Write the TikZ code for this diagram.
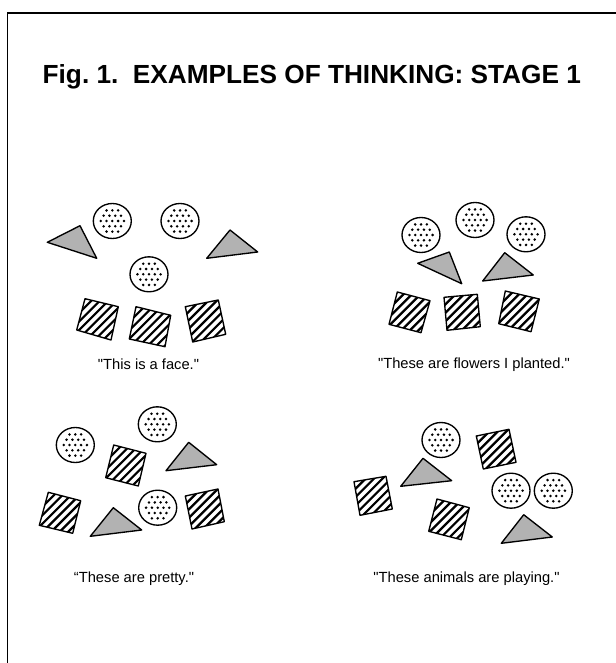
\documentclass[tikz,border=0pt]{standalone}
\usepackage{fontspec}
\newfontfamily\arialf{Liberation Sans}[Ligatures=TeXOff]
\usetikzlibrary{calc}
\tikzset{
  outline/.style={draw=black, line width=1.35pt, line join=round},
  trishape/.style={outline, fill=black!30},
  hatchline/.style={line width=2.2pt, draw=black},
  dotstyle/.style={fill=black},
  framestyle/.style={line width=1.4pt, draw=black},
  caption/.style={font=\arialf\fontsize{14.7}{17}\selectfont, anchor=base, inner sep=0pt},
  titlestyle/.style={font=\arialf\bfseries\fontsize{26.2}{30}\selectfont, anchor=base west, inner sep=0pt},
}
\newcommand\dotball[2]{%
  \begin{scope}[shift={(#1,#2)}]
    \foreach \j [evaluate=\j as \xo using {mod(\j+10,2)*2.9}] in {-4,...,4}{
      \foreach \i in {-4,...,4}{
        \pgfmathtruncatemacro\inside{((\i*5.8+\xo)/15.2)^2+((\j*5.3)/13.8)^2<1}
        \ifnum\inside=1 \fill[dotstyle] (\i*5.8+\xo,\j*5.3) circle (1.4); \fi
      }}
    \draw[outline] (0,0) ellipse [x radius=19, y radius=17.5];
  \end{scope}}
\newcommand\hatchsq[4]{%
  \begin{scope}
    \clip #1--#2--#3--#4--cycle;
    \foreach \k in {-90,-84,...,90}
      \draw[hatchline] ($#1+(\k*1.4142-50,50)$) -- ++(100,-100);
  \end{scope}
  \draw[outline] #1--#2--#3--#4--cycle;}
\newcommand\graytri[3]{\draw[trishape] #1--#2--#3--cycle;}
\frenchspacing
\begin{document}
\begin{tikzpicture}[x=1pt,y=-1pt]
\useasboundingbox (0,0) rectangle (615,663);
% frame
\draw[framestyle] (616,13) -- (7.5,13) -- (7.5,664);
% title
\node[titlestyle] (title) at (42.5,84) {Fig. 1.\ \ EXAMPLES OF THINKING: STAGE 1};

% group 1: face
\dotball{112.3}{221}
\dotball{180}{221}
\dotball{149}{274.3}
\graytri{(47.3,242.3)}{(80,225.7)}{(96.7,258.3)}
\graytri{(206.7,258.3)}{(230,230)}{(257.7,252)}
\hatchsq{(85,298.7)}{(118.3,306.7)}{(111,340)}{(76.7,330)}
\hatchsq{(136,306.7)}{(170.7,315.3)}{(165,346.7)}{(129.3,339)}
\hatchsq{(185.3,306.7)}{(218.3,300)}{(225.7,334.3)}{(192.7,342)}
\node[caption] (cap1) at (148.5,369) {"This is a face."};

% group 2: flowers
\dotball{421}{235}
\dotball{475}{220}
\dotball{526}{234.3}
\graytri{(417.7,263.3)}{(449.3,252)}{(461.7,283.7)}
\graytri{(482.7,281)}{(504.7,252.7)}{(533.3,275)}
\hatchsq{(397.3,292)}{(430,300.7)}{(421,332.7)}{(389,324.3)}
\hatchsq{(444,297.3)}{(477.3,294.3)}{(480.3,326.7)}{(447,330.3)}
\hatchsq{(505.3,291)}{(539.3,299)}{(531,331.7)}{(498.7,323.7)}
\node[caption] (cap2) at (474,368) {"These are flowers I planted."};

% group 3: pretty
\dotball{75.3}{445}
\dotball{157.3}{424.3}
\dotball{157.7}{507.7}
\hatchsq{(113.7,445)}{(146,453.3)}{(138.3,486)}{(105.7,477.7)}
\hatchsq{(48.3,492.3)}{(80.7,500.7)}{(72.7,533.3)}{(39.3,525.3)}
\hatchsq{(185.3,496)}{(218,489)}{(224.3,521.7)}{(192,529)}
\graytri{(166,470.7)}{(188.7,442.3)}{(216.7,464.7)}
\graytri{(90.3,536.3)}{(113.3,507.7)}{(141.7,530)}
\node[caption] (cap3) at (134,582.5) {“These are pretty."};

% group 4: animals
\dotball{441}{440}
\dotball{511}{490.7}
\dotball{553.3}{490.7}
\hatchsq{(476.3,436)}{(509,429.3)}{(516,462.3)}{(483.3,469)}
\hatchsq{(354,481.7)}{(386,476.3)}{(392.3,509)}{(360,515.3)}
\hatchsq{(437,499)}{(469.3,507.7)}{(461.3,539.7)}{(428.7,531.3)}
\graytri{(400.7,486.3)}{(423,458.3)}{(451.7,480.7)}
\graytri{(501.3,543.3)}{(523.7,514.7)}{(552.3,537)}
\node[caption] (cap4) at (466.5,582) {"These animals are playing."};
\end{tikzpicture}
\end{document}
